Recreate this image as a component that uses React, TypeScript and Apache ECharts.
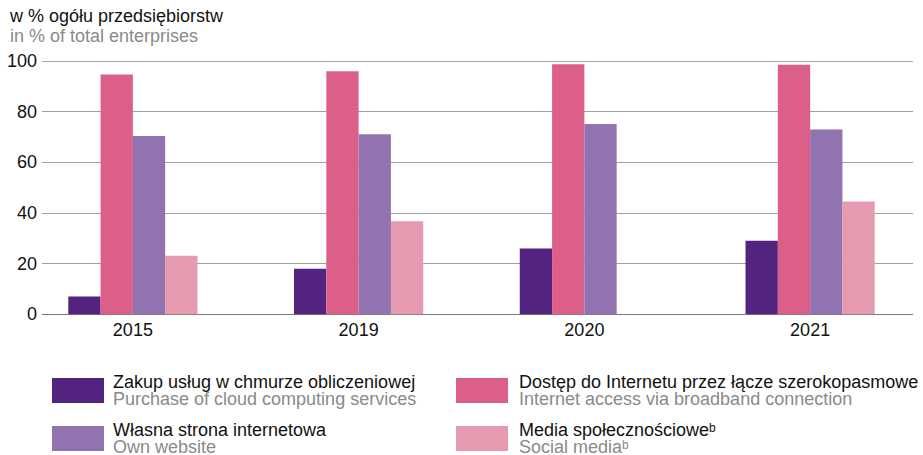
import React, { useEffect, useRef } from "react";
import * as echarts from "echarts";

const categories = ["2015", "2019", "2020", "2021"];
const cloudValues = [7, 18, 26, 29];
const broadbandValues = [94.7, 96, 98.7, 98.5];
const websiteValues = [70.4, 71.1, 75.1, 73];
const socialValues: (number | null)[] = [23.1, 36.7, null, 44.5];
const yTicks = [0, 20, 40, 60, 80, 100];

const seriesNamesPl = [
  "Zakup usług w chmurze obliczeniowej",
  "Dostęp do Internetu przez łącze szerokopasmowe",
  "Własna strona internetowa",
  "Media społecznościowe",
];
const seriesNamesEn = [
  "Purchase of cloud computing services",
  "Internet access via broadband connection",
  "Own website",
  "Social media",
];
const superscripts = ["", "", "", "b"];
const colors = ["#52247f", "#dc5f8a", "#9173b0", "#e69aaf"];

const FONT = '"Liberation Sans", Arial, sans-serif';
const FS = 18;

export default function App() {
  const ref = useRef<HTMLDivElement>(null);
  useEffect(() => {
    if (!ref.current) return;
    const chart = echarts.init(ref.current, null, { renderer: "svg" });
    const values = [cloudValues, broadbandValues, websiteValues, socialValues];
    const legendFormatter = (name: string) => {
      const i = seriesNamesPl.indexOf(name);
      const sup = superscripts[i];
      return (
        "{a|" + seriesNamesPl[i] + "}" + (sup ? "{asup|" + sup + "}" : "") +
        "\n{b|" + seriesNamesEn[i] + "}" + (sup ? "{bsup|" + sup + "}" : "")
      );
    };
    const legendRich = {
      a: { fontSize: FS, color: "#111", lineHeight: 17, fontFamily: FONT },
      b: { fontSize: FS, color: "#8a8a8a", lineHeight: 17, fontFamily: FONT },
      asup: { fontSize: 12, color: "#111", lineHeight: 17, verticalAlign: "top", fontFamily: FONT },
      bsup: { fontSize: 12, color: "#8a8a8a", lineHeight: 17, verticalAlign: "top", fontFamily: FONT },
    };
    const legendBase = {
      orient: "vertical",
      top: 373,
      height: 150,
      padding: 0,
      itemWidth: 52,
      itemHeight: 25,
      itemGap: 13,
      icon: "rect",
      selectedMode: false,
      formatter: legendFormatter,
    };
    chart.setOption({
      animation: false,
      textStyle: { fontFamily: FONT },
      title: {
        text: "w % ogółu przedsiębiorstw",
        subtext: "in % of total enterprises",
        left: 10,
        top: 7,
        padding: 0,
        itemGap: 2,
        textStyle: { fontSize: FS, fontWeight: "normal", color: "#111", fontFamily: FONT },
        subtextStyle: { fontSize: FS, color: "#8a8a8a", fontFamily: FONT },
      },
      legend: [
        {
          ...legendBase,
          left: 52,
          data: [seriesNamesPl[0], seriesNamesPl[2]],
          textStyle: { rich: legendRich, padding: [0, 0, 0, 4] },
        },
        {
          ...legendBase,
          left: 456,
          data: [seriesNamesPl[1], seriesNamesPl[3]],
          textStyle: { rich: legendRich, padding: [0, 0, 0, 6] },
        },
      ],
      grid: [
        { left: 20, width: 906, top: 61, bottom: 140.7 },
        { left: 42, right: 10, top: 61, bottom: 140.7 },
      ],
      xAxis: [
        {
          type: "category",
          gridIndex: 0,
          data: categories,
          axisLine: { show: false },
          axisTick: { show: false },
          axisLabel: { fontSize: FS, color: "#111", margin: 7, fontFamily: FONT },
        },
        { type: "value", gridIndex: 1, min: 0, max: 1, show: false },
      ],
      yAxis: [
        {
          type: "value",
          gridIndex: 0,
          min: 0,
          max: 100,
          interval: 20,
          show: false,
          splitLine: { show: false },
        },
        {
          type: "value",
          gridIndex: 1,
          min: yTicks[0],
          max: yTicks[yTicks.length - 1],
          interval: 20,
          axisLine: { show: false },
          axisTick: { show: false },
          axisLabel: { fontSize: FS, color: "#111", margin: 5, fontFamily: FONT },
          splitLine: {
            lineStyle: {
              color: ["#7a7a7a", "#a0a0a0", "#a0a0a0", "#a0a0a0", "#a0a0a0", "#a8a8a8"],
              width: 1,
            },
          },
        },
      ],
      series: values.map((v, i) => ({
        type: "bar",
        name: seriesNamesPl[i],
        xAxisIndex: 0,
        yAxisIndex: 0,
        data: v,
        barWidth: 32.3,
        barGap: "0%",
        itemStyle: { color: colors[i] },
      })),
    });
    return () => chart.dispose();
  }, []);
  return (
    <div
      ref={ref}
      style={{ position: "absolute", left: 0, top: 0, width: 923, height: 455, background: "#fff" }}
    />
  );
}
